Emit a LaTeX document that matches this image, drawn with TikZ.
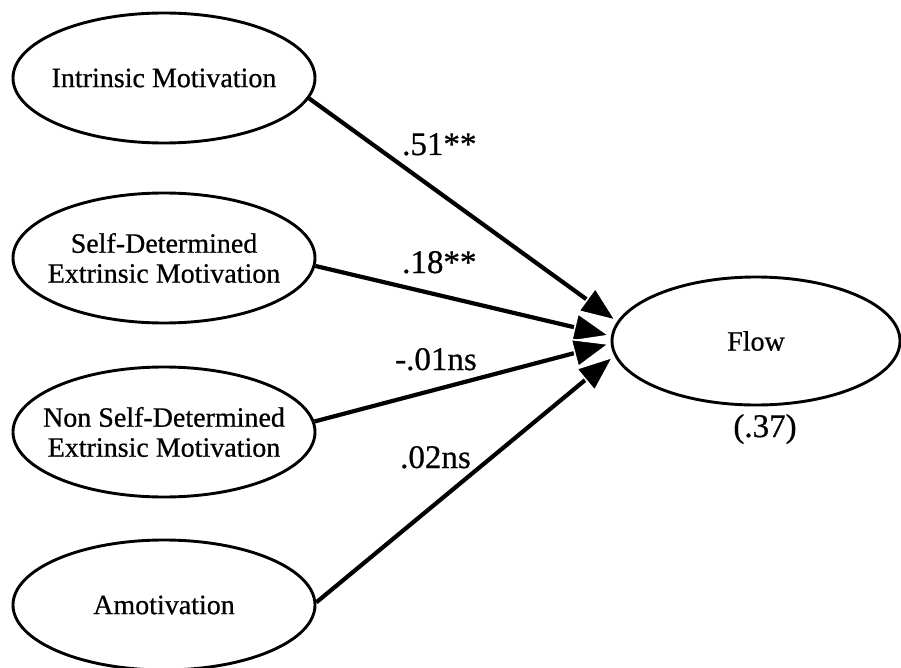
\documentclass[tikz,border=0pt]{standalone}
\usepackage{fontspec}
\setmainfont{Liberation Serif}
\newfontfamily\heavyserif[FakeBold=0.6]{Liberation Serif}
\usetikzlibrary{arrows.meta,shapes.geometric}
\begin{document}
\begin{tikzpicture}[x=1pt,y=-1pt,
  latent/.style={ellipse, draw, line width=2.9pt, minimum width=302pt, minimum height=130pt,
    inner xsep=-30pt, inner ysep=0pt, align=center, font=\heavyserif\fontsize{28}{30}\selectfont},
  flowbox/.style={latent, minimum width=288pt, minimum height=128pt},
  pathline/.style={line width=4.2pt, -{Triangle[length=38pt,width=30pt,color=white,fill=black,line width=1.6pt]}},
  coef/.style={anchor=base west, inner sep=0pt, font=\heavyserif\fontsize{33}{36}\selectfont}]
\useasboundingbox (0,0) rectangle (901,668);
\fill[white] (0,0) rectangle (901,668);

\node[latent] (intr) at (164,78) {Intrinsic Motivation};
\node[latent] (sdem) at (164,258) {Self-Determined\\Extrinsic Motivation};
\node[latent] (nsdem) at (164,432) {Non Self-Determined\\Extrinsic Motivation};
\node[latent] (amot) at (164,605) {Amotivation};
\node[flowbox] (flow) at (756,341) {Flow};

\draw[pathline] (intr.-8.7) -- (flow.172.3);
\draw[pathline] (sdem.-3.4) -- (flow.178.4);
\draw[pathline] (nsdem.4.6) -- (flow.181.6);
\draw[pathline] (amot.1) -- (flow.186.9);

\node[coef] (c1) at (402,155) {.51**};
\node[coef] (c2) at (402,273) {.18**};
\node[coef] (c3) at (395,370) {-.01ns};
\node[coef] (c4) at (400,468) {.02ns};
\node[anchor=base, inner sep=0pt, font=\heavyserif\fontsize{33}{36}\selectfont] (r2) at (765,437) {(.37)};
\end{tikzpicture}
\end{document}
